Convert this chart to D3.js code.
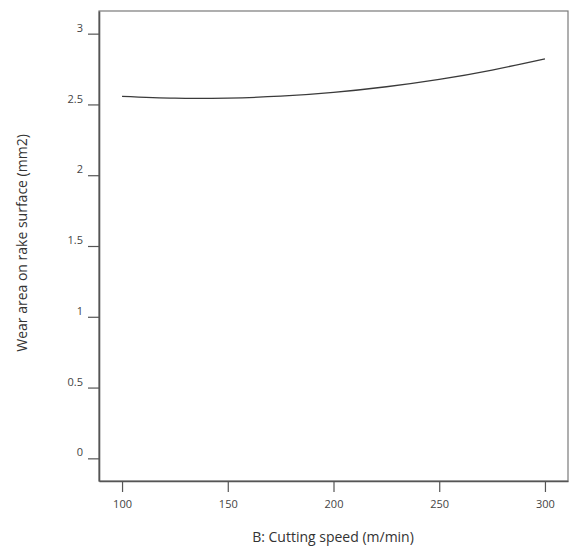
<!DOCTYPE html>
<html>
<head>
<meta charset="utf-8">
<script src="https://cdn.jsdelivr.net/npm/d3@7"></script>
<style>
  body { margin: 0; background: #fff; }
  svg { display: block; font-family: "Open Sans", sans-serif; }
</style>
</head>
<body>
<div id="chart"></div>
<script>
// values
const speeds = [100, 125, 150, 175, 200, 225, 250, 275, 300];
const wearArea = [2.557, 2.544, 2.545, 2.558, 2.585, 2.625, 2.677, 2.743, 2.822];
const xTicks = [100, 150, 200, 250, 300];
const yTicks = [0, 0.5, 1, 1.5, 2, 2.5, 3];

const width = 570;
const height = 547;
const plot = { left: 99, right: 568, top: 11, bottom: 481 };

const svg = d3.select("#chart")
    .append("svg")
    .attr("width", width)
    .attr("height", height);

const x = d3.scaleLinear()
    .domain([89.1, 310.9])
    .range([plot.left, plot.right]);

const y = d3.scaleLinear()
    .domain([-0.16, 3.16])
    .range([plot.bottom, plot.top]);

// frame (top and right)
svg.append("rect")
    .attr("x", plot.left)
    .attr("y", plot.top)
    .attr("width", plot.right - plot.left)
    .attr("height", plot.bottom - plot.top)
    .attr("fill", "none")
    .attr("stroke", "#7a7a7a")
    .attr("stroke-width", 1.2);

const xAxis = svg.append("g")
    .attr("transform", `translate(0, ${plot.bottom})`)
    .call(d3.axisBottom(x).tickValues(xTicks).tickSize(11).tickPadding(8).tickSizeOuter(0));

const yAxis = svg.append("g")
    .attr("transform", `translate(${plot.left}, 0)`)
    .call(d3.axisLeft(y).tickValues(yTicks).tickSize(11).tickPadding(5).tickSizeOuter(0)
        .tickFormat(d3.format("")));

[xAxis, yAxis].forEach(ax => {
    ax.select(".domain").attr("stroke", "#555").attr("stroke-width", 1.6);
    ax.selectAll(".tick line").attr("stroke", "#555").attr("stroke-width", 1.2);
    ax.selectAll(".tick text")
        .attr("fill", "#444")
        .style("font-size", "11px")
        .style("font-family", "'Open Sans', sans-serif");
});
yAxis.selectAll(".tick text").attr("dy", "-0.22em");

// curve
const line = d3.line()
    .x((d, i) => x(speeds[i]))
    .y(d => y(d))
    .curve(d3.curveNatural);

svg.append("path")
    .datum(wearArea)
    .attr("d", line)
    .attr("fill", "none")
    .attr("stroke", "#3a3a3a")
    .attr("stroke-width", 1.3);

// axis titles
svg.append("text")
    .attr("x", 333)
    .attr("y", 542)
    .attr("text-anchor", "middle")
    .attr("fill", "#333")
    .style("font-size", "14px")
    .text("B: Cutting speed (m/min)");

svg.append("text")
    .attr("transform", "translate(27, 243) rotate(-90)")
    .attr("text-anchor", "middle")
    .attr("fill", "#333")
    .style("font-size", "14px")
    .text("Wear area on rake surface (mm2)");
</script>
</body>
</html>
